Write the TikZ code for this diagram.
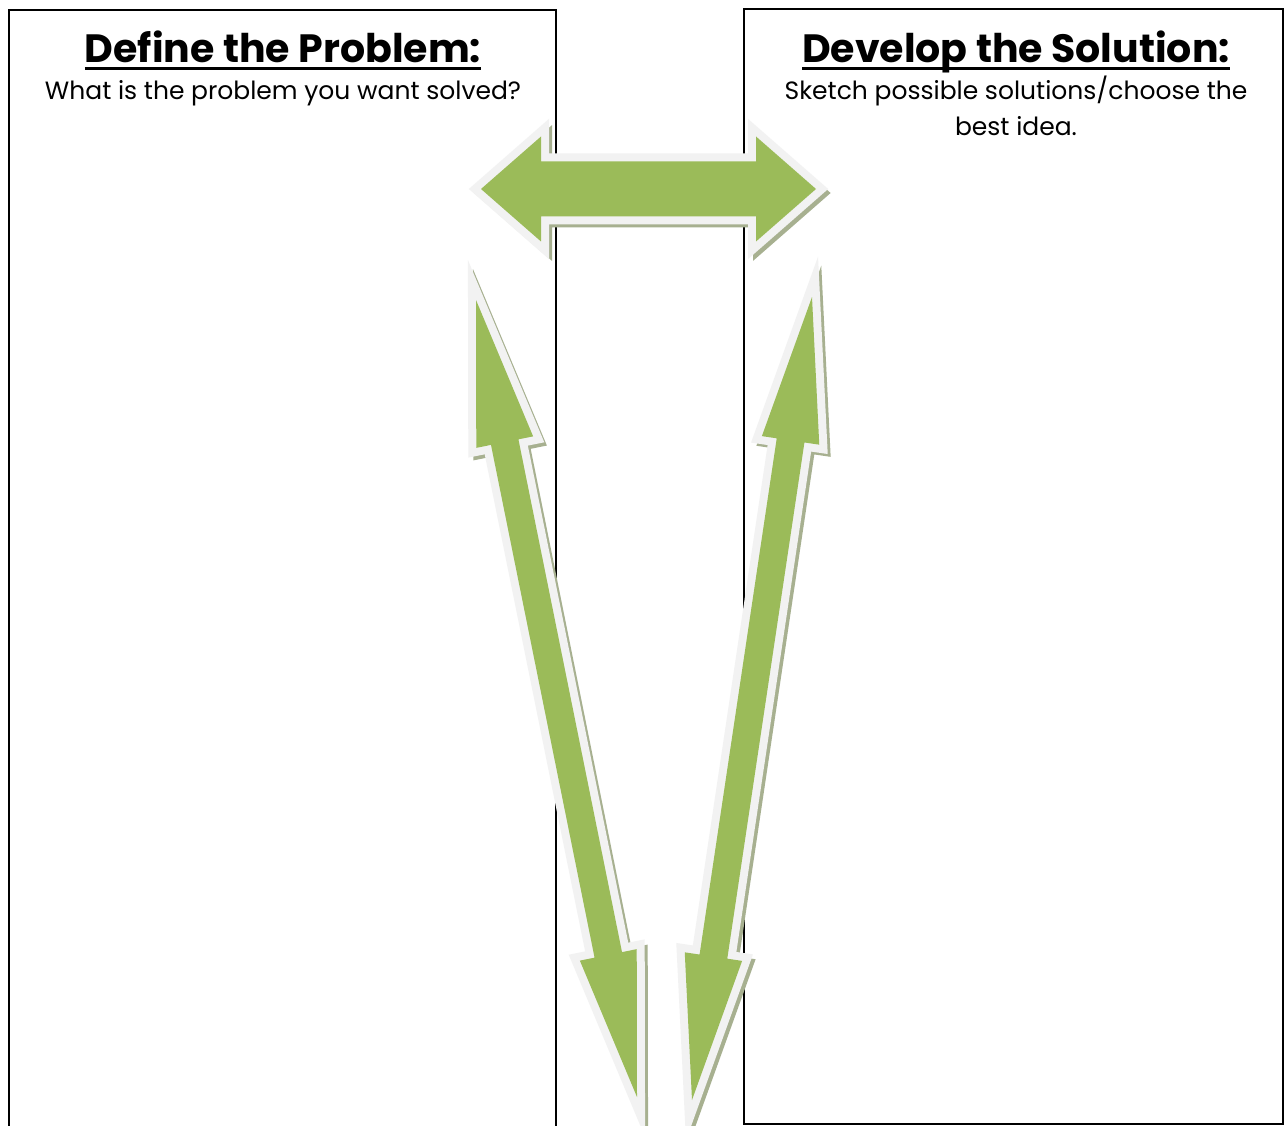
\documentclass[tikz,border=0pt]{standalone}
\usepackage{fontspec}
\setmainfont{Poppins}
\usetikzlibrary{calc}

\definecolor{leafgreen}{HTML}{9BBB59}
\definecolor{rimgray}{HTML}{F2F2F2}
\definecolor{shadowgray}{HTML}{A7B090}

% underline drawn as a thick rule under the word box
\newcommand\thickul[1]{\setbox0\hbox{#1}\rlap{\rule[-6.8pt]{\wd0}{3pt}}\box0}

% corner points of a double-headed block arrow from #2 to #3
% #4 head length, #5 head half width, #6 shaft half width
\newcommand\blockarrowpoints[6]{%
  \coordinate (#1ha) at ($(#2)!#4!(#3)$);
  \coordinate (#1hb) at ($(#3)!#4!(#2)$);
  \coordinate (#1p1) at ($(#1ha)!#5!90:(#3)$);
  \coordinate (#1p2) at ($(#1ha)!#6!90:(#3)$);
  \coordinate (#1p3) at ($(#1hb)!#6!-90:(#2)$);
  \coordinate (#1p4) at ($(#1hb)!#5!-90:(#2)$);
  \coordinate (#1p5) at ($(#1hb)!#5!90:(#2)$);
  \coordinate (#1p6) at ($(#1hb)!#6!90:(#2)$);
  \coordinate (#1p7) at ($(#1ha)!#6!-90:(#3)$);
  \coordinate (#1p8) at ($(#1ha)!#5!-90:(#3)$);
}
\newcommand\blockarrowpath[3]{(#2) -- (#1p1) -- (#1p2) -- (#1p3) -- (#1p4) -- (#3)
  -- (#1p5) -- (#1p6) -- (#1p7) -- (#1p8) -- cycle}

\tikzset{
  panel/.style={draw=black, line width=2pt},
  heading/.style={inner sep=0pt, anchor=base, font=\bfseries\fontsize{39.5}{46}\selectfont},
  subline/.style={inner sep=0pt, anchor=base, font=\fontsize{25}{32}\selectfont},
  arrowshadow/.style={fill=shadowgray, draw=shadowgray, line width=14pt, line join=miter},
  arrowrim/.style={fill=rimgray, draw=rimgray, line width=16pt, line join=miter},
  arrowbody/.style={fill=leafgreen},
}

\begin{document}
\begin{tikzpicture}[x=1pt, y=-1pt]
  \useasboundingbox (0,0) rectangle (1288,1126);
  \clip (0,0) rectangle (1288,1126);
  \fill[white] (0,0) rectangle (1288,1126);

  % the two panels
  \draw[panel] (9,10) rectangle (556,1126.5);
  \draw[panel] (744,9) rectangle (1283,1124);

  % headings
  \node[heading] (probtitle) at (283,63) {\thickul{Define the Problem:}};
  \node[subline] (probtext) at (283,100) {What is the problem you want solved?};
  \node[heading] (soltitle) at (1016,63) {\thickul{Develop the Solution:}};
  \node[subline] (soltext1) at (1016,100) {Sketch possible solutions/choose the};
  \node[subline] (soltext2) at (1016,136) {best idea.};

  % arrow tips
  \coordinate (hA) at (481,189);
  \coordinate (hB) at (816,189);
  \coordinate (lA) at (476,300);
  \coordinate (lB) at (637,1097);
  \coordinate (rA) at (812,297);
  \coordinate (rB) at (692,1100);

  \blockarrowpoints{h}{hA}{hB}{60pt}{52.5pt}{27.5pt}
  \blockarrowpoints{l}{lA}{lB}{145pt}{29pt}{14pt}
  \blockarrowpoints{r}{rA}{rB}{145pt}{29pt}{14pt}

  \foreach \k/\a/\b in {h/hA/hB, l/lA/lB, r/rA/rB}{
    \begin{scope}[transform canvas={shift={(4pt,-4pt)}}]
      \path[arrowshadow] \blockarrowpath{\k}{\a}{\b};
    \end{scope}
    \path[arrowrim] \blockarrowpath{\k}{\a}{\b};
    \path[arrowbody] \blockarrowpath{\k}{\a}{\b};
  }
\end{tikzpicture}
\end{document}
